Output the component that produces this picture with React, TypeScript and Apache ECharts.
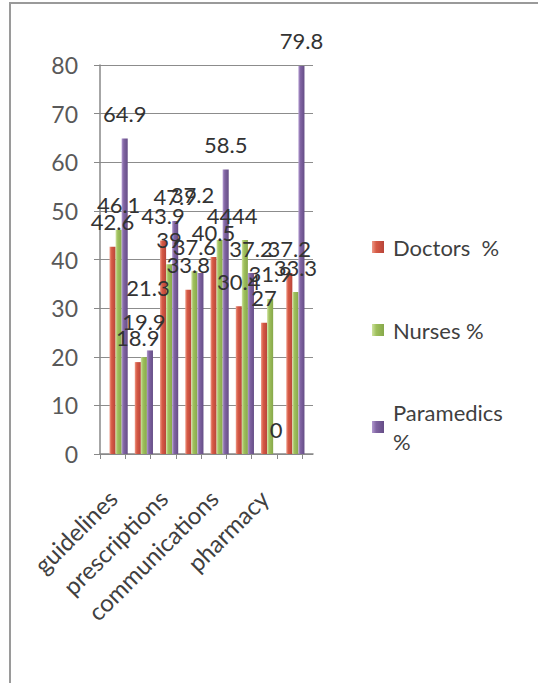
import React, { useEffect, useRef } from "react";
import * as echarts from "echarts";

// Categories along the x axis (only every other one carries a printed name)
const categories = ["guidelines", "", "prescriptions", "", "communications", "", "pharmacy", ""];

// Percentages per staff group
const doctors = [42.6, 18.9, 43.9, 33.8, 40.5, 30.4, 27, 37.2];
const nurses = [46.1, 19.9, 39, 37.6, 44, 44, 31.9, 33.3];
const paramedics = [64.9, 21.3, 47.9, 37.2, 58.5, 37.2, 0, 79.8];

const seriesNames = ["Doctors  %", "Nurses %", "Paramedics %"];

// Value axis range and step
const yMin = 0;
const yMax = 80;
const yStep = 10;

const FONT = "Lato, 'Liberation Sans', sans-serif";

// A few data labels sit higher than the default spot
const labelNudge: Record<string, [number, number]> = {
  "1-1": [0, -11],
  "2-1": [-2, -38],
  "2-3": [-8, -54],
};

function shade(light: string, base: string, dark: string) {
  return new echarts.graphic.LinearGradient(0, 0, 1, 0, [
    { offset: 0, color: light },
    { offset: 0.35, color: base },
    { offset: 1, color: dark },
  ]);
}

export default function App() {
  const ref = useRef<HTMLDivElement>(null);

  useEffect(() => {
    if (!ref.current) return;
    const chart = echarts.init(ref.current, null, { renderer: "svg" });

    const fills = [
      shade("#ee9a88", "#d65a45", "#b8443a"),
      shade("#cfe3a0", "#9fc05c", "#86a84a"),
      shade("#b29ad0", "#8064a2", "#654d86"),
    ];

    const build = (values: number[], s: number) =>
      values.map((v, i) => {
        const n = labelNudge[`${s}-${i}`];
        return n ? { value: v, label: { offset: n } } : v;
      });

    const legendBase = {
      orient: "vertical" as const,
      left: 372,
      padding: 0,
      itemWidth: 12,
      itemHeight: 12,
      icon: "rect",
      selectedMode: false,
      textStyle: {
        fontFamily: FONT,
        fontSize: 22,
        color: "#3f3f3f",
        lineHeight: 29,
        padding: [0, 0, 0, 4],
      },
    };

    chart.setOption({
      animation: false,
      backgroundColor: "#ffffff",
      textStyle: { fontFamily: FONT },
      graphic: [
        {
          type: "rect",
          shape: { x: 10, y: 3, width: 620, height: 760 },
          style: { fill: "none", stroke: "#9a9a9a", lineWidth: 2 },
          silent: true,
        },
      ],
      grid: [
        { left: 100, top: 65, width: 202, height: 389 },
        { left: 106, top: 65, width: 202, height: 389 },
        { left: 100, top: 65, width: 213, height: 389 },
      ],
      xAxis: [
        {
          gridIndex: 0,
          type: "category",
          data: categories,
          boundaryGap: true,
          axisLine: { show: false },
          axisTick: { show: true, length: 5, lineStyle: { color: "#888888" } },
          axisLabel: {
            interval: 0,
            rotate: 45,
            margin: 40,
            fontSize: 24,
            color: "#404040",
            fontFamily: FONT,
          },
        },
        { gridIndex: 1, type: "category", data: categories, show: false },
        {
          gridIndex: 2,
          type: "value",
          min: 0,
          max: 1,
          axisLine: { show: true, lineStyle: { color: "#888888", width: 1.5 } },
          axisTick: { show: false },
          axisLabel: { show: false },
          splitLine: { show: false },
        },
      ],
      yAxis: [
        {
          gridIndex: 0,
          type: "value",
          min: yMin,
          max: yMax,
          interval: yStep,
          axisLine: { show: true, lineStyle: { color: "#888888", width: 1.5 } },
          axisTick: { show: true, length: 6, lineStyle: { color: "#888888" } },
          axisLabel: {
            margin: 22,
            fontSize: 23,
            color: "#595959",
            fontFamily: FONT,
          },
          splitLine: { show: false },
        },
        { gridIndex: 1, type: "value", min: yMin, max: yMax, interval: yStep, show: false },
        {
          gridIndex: 2,
          type: "value",
          min: yMin,
          max: yMax,
          interval: yStep,
          axisLine: { show: false },
          axisTick: { show: false },
          axisLabel: { show: false },
          splitLine: { show: true, lineStyle: { color: "#8c8c8c", width: 1.2 } },
        },
      ],
      legend: [
        { ...legendBase, top: 232.5, data: [seriesNames[0]] },
        { ...legendBase, top: 315.5, data: [seriesNames[1]] },
        {
          ...legendBase,
          top: 383.5,
          data: [seriesNames[2]],
          formatter: () => "Paramedics\n%",
          textStyle: { ...legendBase.textStyle, padding: [29, 0, 0, 4] },
        },
      ],
      series: [doctors, nurses, paramedics].map((vals, s) => ({
        name: seriesNames[s],
        type: "bar",
        xAxisIndex: 1,
        yAxisIndex: 1,
        barGap: "0%",
        barCategoryGap: "28%",
        itemStyle: { color: fills[s] },
        label: {
          show: true,
          position: "top",
          distance: 14,
          fontSize: 22,
          color: "#333333",
          fontFamily: FONT,
        },
        data: build(vals, s),
      })),
    });

    return () => chart.dispose();
  }, []);

  return (
    <div
      ref={ref}
      style={{ position: "fixed", left: 0, top: 0, width: 538, height: 683, background: "#fff" }}
    />
  );
}
